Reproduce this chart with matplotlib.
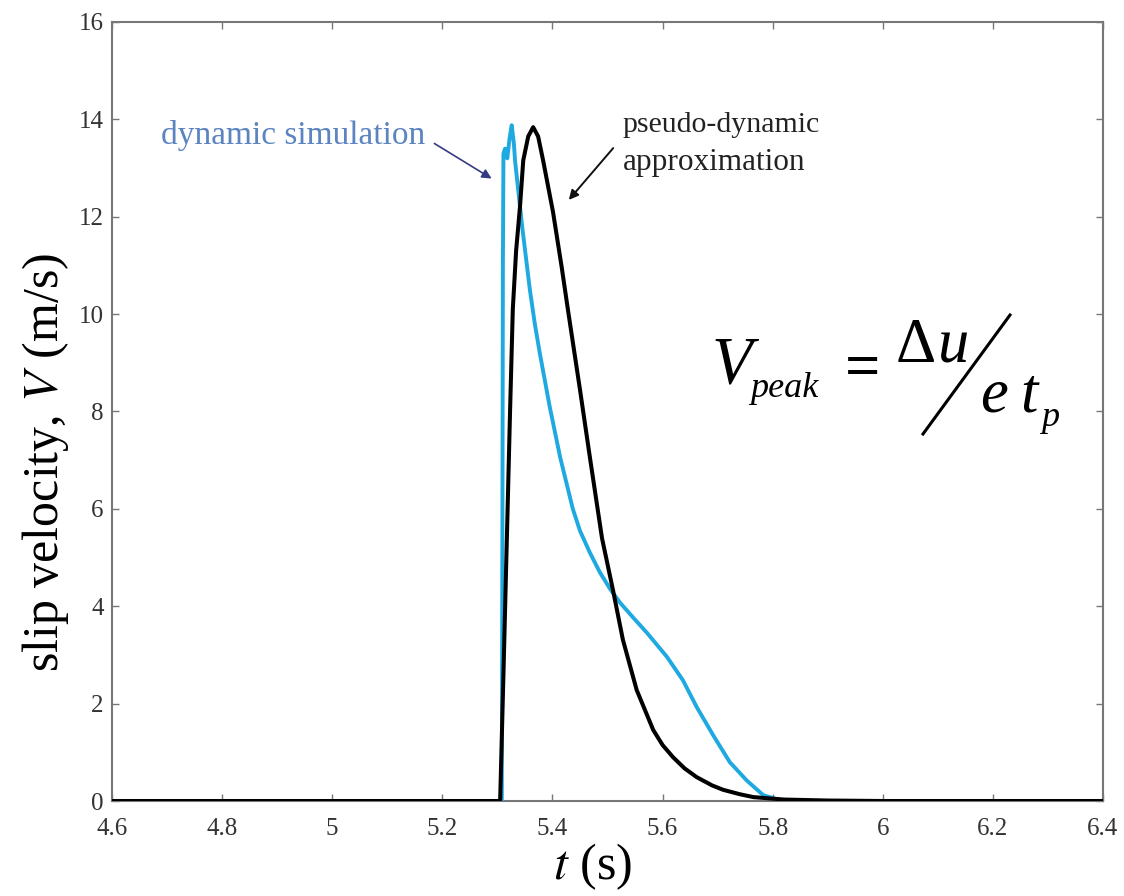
import matplotlib
matplotlib.use("Agg")
import matplotlib.pyplot as plt
from matplotlib.lines import Line2D

# ---- data ----
t_dyn = [4.6, 5.308, 5.309, 5.310, 5.311, 5.314, 5.318, 5.322, 5.326, 5.330, 5.332,
         5.345, 5.359, 5.368, 5.377, 5.395, 5.414, 5.437, 5.450, 5.468, 5.486,
         5.505, 5.523, 5.548, 5.572, 5.608, 5.637, 5.662, 5.692, 5.722, 5.753,
         5.783, 5.810, 5.850, 6.4]
v_dyn = [0, 0, 5.0, 11.0, 13.3, 13.4, 13.2, 13.6, 13.88, 13.5, 13.16,
         11.8, 10.5, 9.8, 9.2, 8.1, 7.06, 6.0, 5.55, 5.1, 4.7,
         4.35, 4.07, 3.75, 3.45, 2.96, 2.48, 1.93, 1.35, 0.80, 0.42,
         0.12, 0.03, 0.0, 0]

t_pd = [4.6, 5.305, 5.311, 5.317, 5.323, 5.328, 5.334, 5.341, 5.347, 5.356, 5.365,
        5.374, 5.383, 5.401, 5.417, 5.428, 5.450, 5.468, 5.490, 5.510, 5.528,
        5.553, 5.583, 5.600, 5.619, 5.640, 5.662, 5.690, 5.710, 5.740, 5.765,
        5.820, 5.900, 6.000, 6.4]
v_pd = [0, 0, 2.6, 5.3, 8.0, 10.1, 11.3, 12.2, 13.16, 13.65, 13.84,
        13.65, 13.16, 12.1, 10.95, 10.1, 8.45, 7.06, 5.4, 4.33, 3.31,
        2.28, 1.46, 1.15, 0.90, 0.67, 0.49, 0.32, 0.23, 0.14, 0.08,
        0.03, 0.01, 0.0, 0]

x_ticks = [4.6, 4.8, 5.0, 5.2, 5.4, 5.6, 5.8, 6.0, 6.2, 6.4]
x_labels = ["4.6", "4.8", "5", "5.2", "5.4", "5.6", "5.8", "6", "6.2", "6.4"]
y_ticks = [0, 2, 4, 6, 8, 10, 12, 14, 16]

W, H = 1124, 896
plt.rcParams['font.family'] = ['Liberation Serif', 'DejaVu Serif']
plt.rcParams['mathtext.fontset'] = 'stix'

fig = plt.figure(figsize=(W / 100, H / 100), dpi=100)
ax = fig.add_axes([112 / W, 1 - 801 / H, (1103 - 112) / W, (801 - 22) / H])

ax.plot(t_dyn, v_dyn, color='#1fa9e1', lw=2.8, solid_joinstyle='round', zorder=3)
ax.plot(t_pd, v_pd, color='black', lw=2.9, solid_joinstyle='round', zorder=4)

ax.set_xlim(4.6, 6.4)
ax.set_ylim(0, 16)
ax.set_xticks(x_ticks)
ax.set_xticklabels(x_labels)
ax.set_yticks(y_ticks)
ax.tick_params(direction='in', top=True, right=True, length=5, width=1,
               colors='#777777', labelcolor='#333333', labelsize=18)
ax.tick_params(axis='x', pad=12)
ax.tick_params(axis='y', pad=6)
for s in ax.spines.values():
    s.set_color('#777777')
    s.set_linewidth(1.5)

ax.set_xlabel(r'$t$ (s)', fontsize=36)
ax.xaxis.set_label_coords((593 - 112) / 991, (801 - 841) / 779)
ax.set_ylabel(r'slip velocity, $V$ (m/s)', fontsize=36)
ax.yaxis.label.set_va('center')
ax.yaxis.set_label_coords((46 - 112) / 991, (801 - 462) / 779)


def px(x, y):
    return (x / W, 1 - y / H)


# annotations
fig.text(*px(161, 144), 'dynamic simulation', color='#5b84c0', fontsize=24,
         ha='left', va='baseline')
ax.annotate('', xy=px(494, 180), xycoords='figure fraction',
            xytext=px(432, 142), textcoords='figure fraction',
            arrowprops=dict(arrowstyle='-|>', color='#353b80', lw=1.2,
                            mutation_scale=14))
fig.text(*px(622, 132), 'pseudo-dynamic', color='#222222', fontsize=21.5,
         ha='left', va='baseline')
fig.text(*px(623, 170), 'approximation', color='#222222', fontsize=22.5,
         ha='left', va='baseline')
ax.annotate('', xy=px(567, 202), xycoords='figure fraction',
            xytext=px(615, 146), textcoords='figure fraction',
            arrowprops=dict(arrowstyle='-|>', color='#111111', lw=1.4,
                            mutation_scale=14))

# equation
fig.text(*px(712, 382), 'V', fontsize=48, style='italic', ha='left', va='baseline')
fig.text(*px(750, 397), 'peak', fontsize=26, style='italic', ha='left', va='baseline')
fig.text(*px(845, 387), '=', fontsize=45, fontweight='bold', ha='left', va='baseline')
fig.text(*px(896, 362), 'Δ', fontsize=45, ha='left', va='baseline')
fig.text(*px(938, 362), 'u', fontsize=45, style='italic', ha='left', va='baseline')
fig.add_artist(Line2D([923 / W, 1010 / W], [1 - 434 / H, 1 - 315 / H],
                      color='black', lw=2.2, transform=fig.transFigure))
fig.text(*px(980, 411), 'e', fontsize=45, style='italic', ha='left', va='baseline')
fig.text(*px(1020, 411), 't', fontsize=45, style='italic', ha='left', va='baseline')
fig.text(*px(1041, 426), 'p', fontsize=26, style='italic', ha='left', va='baseline')

fig.savefig('out.png', dpi=100)
